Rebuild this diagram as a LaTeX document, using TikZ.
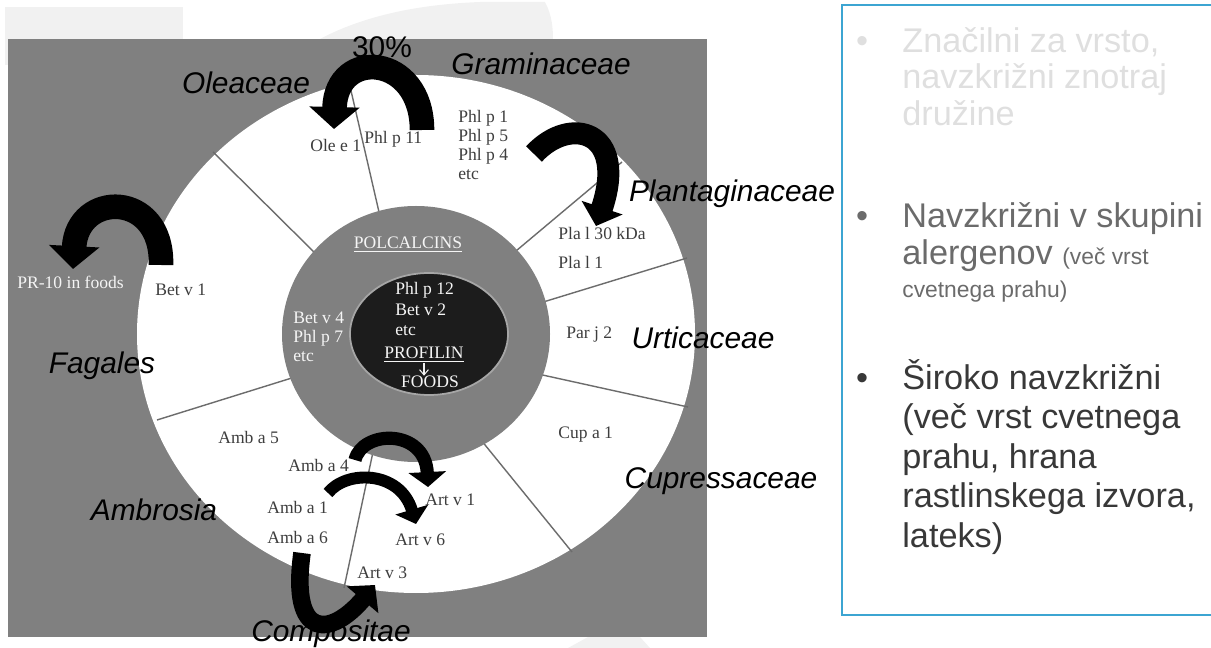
\documentclass[tikz,border=0pt]{standalone}
\usepackage{fontspec}
\setmainfont{Liberation Sans}
\newfontfamily\timesfont{Liberation Serif}
\usetikzlibrary{arrows.meta}
\definecolor{panelgray}{RGB}{128,128,128}
\definecolor{darkcore}{RGB}{28,28,28}
\definecolor{labelgray}{RGB}{62,62,62}
\definecolor{boxblue}{RGB}{60,165,210}
\definecolor{faint}{RGB}{241,241,241}

\begin{document}
\begin{tikzpicture}[x=0.02cm,y=-0.02cm,
  allergen/.style={font=\timesfont\fontsize{10}{10.8}\selectfont,text=labelgray,inner sep=0pt,align=left,anchor=west},
  lightlabel/.style={allergen,text=white!92!gray},
  family/.style={font=\itshape\fontsize{17}{20}\selectfont,inner sep=0pt},
  divider/.style={draw=gray!85!black,line width=0.8pt},
  curvearrow/.style n args={3}{line width=#1,-{Triangle[length=#2,width=#3]}},
  bulletmark/.style={anchor=base,inner sep=0pt,font=\fontsize{19.5}{20}\selectfont},
  bulletitem/.style={anchor=north west,align=left,inner sep=0pt}
]
\useasboundingbox (0,0) rectangle (1211,648);

% faint slide background
\fill[faint] (5,7) rectangle (183,65);
\fill[faint] (318,40) .. controls (370,12) and (430,4) .. (480,2) -- (545,2) .. controls (552,15) and (553,28) .. (553,40) -- cycle;
\fill[faint] (568,648) -- (588,637) -- (640,637) -- (650,648) -- cycle;

% panel, outer ring and the dividers
\fill[panelgray] (8,39) rectangle (707,637);
\fill[white] (416,334) ellipse [x radius=279,y radius=259];
\draw[divider] (382,225) -- (349,82);
\draw[divider] (320,258) -- (213,152);
\draw[divider] (510,256) -- (622,162);
\draw[divider] (540,303) -- (687,258);
\draw[divider] (538,374) -- (688,407);
\draw[divider] (481,440) -- (572,552);
\draw[divider] (295,377) -- (157,420);
\draw[divider] (373,452) -- (344,588);

% polcalcins and profilin core
\fill[panelgray] (416,334) ellipse [x radius=134,y radius=128];
\filldraw[fill=darkcore,draw=gray!70,line width=1pt] (429,334) ellipse [x radius=79,y radius=61];

\node[lightlabel,anchor=center] (polcalcins) at (408,245) {\underline{POLCALCINS}};
\node[lightlabel] (polclist) at (293,337) {Bet v 4\\Phl p 7\\etc};
\node[lightlabel,font=\timesfont\fontsize{10}{11.9}\selectfont] (proflist) at (395,309) {Phl p 12\\Bet v 2\\etc};
\node[lightlabel,anchor=center] (profilin) at (424,355) {\underline{PROFILIN}};
\node[lightlabel,anchor=center] (foods) at (430,382) {FOODS};
\draw[white!90!gray,line width=0.6pt,-{Straight Barb[length=3pt,width=5pt]}] (profilin.south) -- (profilin.south |- foods.north);

% allergens in the ring
\node[allergen] (olee1) at (310,145) {Ole e 1};
\node[allergen] (phlp11) at (364,139) {Phl p 11};
\node[allergen] (gramlist) at (458,145) {Phl p 1\\Phl p 5\\Phl p 4\\etc};
\node[allergen] (plal30) at (558,233) {Pla l 30 kDa};
\node[allergen] (plal1) at (558,262) {Pla l 1};
\node[allergen] (parj2) at (566,335) {Par j 2};
\node[allergen] (cupa1) at (558,435) {Cup a 1};
\node[allergen] (artv1) at (425,500) {Art v 1};
\node[allergen] (artv6) at (395,540) {Art v 6};
\node[allergen] (artv3) at (357,573) {Art v 3};
\node[allergen] (amba4) at (288,465) {Amb a 4};
\node[allergen] (amba1) at (267,507) {Amb a 1};
\node[allergen] (amba6) at (267,537) {Amb a 6};
\node[allergen] (amba5) at (218,437) {Amb a 5};
\node[allergen] (betv1) at (155,290) {Bet v 1};
\node[lightlabel] (pr10) at (17,282) {PR-10 in foods};

% plant families
\node[family,font=\fontsize{17}{20}\selectfont] (pct) at (382,47) {30\%};
\node[family] (oleaceae) at (246,83) {Oleaceae};
\node[family] (graminaceae) at (541,64) {Graminaceae};
\node[family] (plantago) at (732,194) {Plantaginaceae};
\node[family] (urtica) at (703,338) {Urticaceae};
\node[family] (cupress) at (721,481) {Cupressaceae};
\node[family] (fagales) at (102,366) {Fagales};
\node[family] (ambrosia) at (154,510) {Ambrosia};
\node[family] (composit) at (331,634) {Compositae};

% cross-reactivity arrows
\coordinate (gramtail) at (422,130);
\coordinate (oletip) at (334,129);
\draw[curvearrow={14pt}{12.5pt}{28pt}] (gramtail) .. controls +(0,-76) and +(2,-82) .. (oletip);

\coordinate (gramfoot) at (534,154);
\coordinate (platip) at (596,226);
\draw[curvearrow={12.5pt}{11pt}{24pt}] (gramfoot) .. controls +(36,-39) and +(32,-96) .. (platip);

\coordinate (betfoot) at (161,265);
\coordinate (prtip) at (73,269);
\draw[curvearrow={14pt}{13pt}{28pt}] (betfoot) .. controls +(2,-75) and +(4,-78) .. (prtip);

\coordinate (amb4foot) at (355,460);
\coordinate (art1tip) at (428,487);
\draw[curvearrow={7.5pt}{8.5pt}{21pt}] (amb4foot) .. controls +(7,-30) and +(-3,-59) .. (art1tip);

\coordinate (amb1foot) at (328,493);
\coordinate (art6tip) at (416,524);
\draw[curvearrow={6.8pt}{8.5pt}{19pt}] (amb1foot) .. controls +(18,-23) and +(-16,-54) .. (art6tip);

\coordinate (amb6foot) at (302,553);
\coordinate (art3tip) at (375,585);
\draw[curvearrow={10pt}{11pt}{23pt}] (amb6foot) .. controls +(-12,88) and +(-44,52) .. (art3tip);

% text box on the right
\draw[boxblue,line width=0.9pt] (1220,5) -- (842,5) -- (842,615) -- (1220,615);
\node[bulletmark,text=gray!25] (mark1) at (862,53) {\textbullet};
\node[bulletitem,text=gray!25,font=\fontsize{19.5}{20.7}\selectfont] (item1) at (902,27) {Značilni za vrsto,\\navzkrižni znotraj\\družine};
\node[bulletmark,text=black!58] (mark2) at (862,228) {\textbullet};
\node[bulletitem,text=black!58,font=\fontsize{19.5}{21}\selectfont] (item2) at (902,202) {Navzkrižni v skupini\\alergenov {\fontsize{13}{15}\selectfont(več vrst}\\[-2.3pt]{\fontsize{13}{15}\selectfont cvetnega prahu)}};
\node[bulletmark,text=black!78] (mark3) at (862,390) {\textbullet};
\node[bulletitem,text=black!78,font=\fontsize{19.5}{22.5}\selectfont] (item3) at (902,359) {Široko navzkrižni\\(več vrst cvetnega\\prahu, hrana\\rastlinskega izvora,\\lateks)};
\end{tikzpicture}
\end{document}
